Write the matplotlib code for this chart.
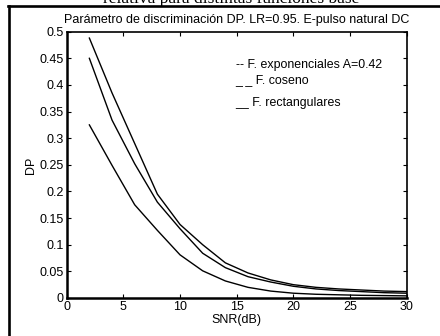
import numpy as np
import matplotlib.pyplot as plt
from matplotlib.lines import Line2D

plt.rcParams['font.family'] = ['Liberation Sans', 'DejaVu Sans']

# SNR points (dB)
snr = [2, 4, 6, 8, 10, 12, 14, 16, 18, 20, 22, 24, 26, 28, 30]

# DP values
dp_exp = [0.488, 0.385, 0.290, 0.195, 0.138, 0.100, 0.066, 0.047, 0.034,
          0.025, 0.020, 0.017, 0.015, 0.013, 0.012]
dp_cos = [0.450, 0.334, 0.252, 0.180, 0.130, 0.084, 0.057, 0.040, 0.030,
          0.022, 0.017, 0.014, 0.012, 0.010, 0.009]
dp_rect = [0.325, 0.249, 0.175, 0.127, 0.081, 0.051, 0.032, 0.020, 0.013,
           0.009, 0.007, 0.006, 0.005, 0.0045, 0.004]

legend_labels = ["-- F. exponenciales A=0.42", "_ _ F. coseno", "__ F. rectangulares"]
legend_y = [0.4375, 0.409, 0.366]

xticks = [0, 5, 10, 15, 20, 25, 30]
yticks = [0, 0.05, 0.1, 0.15, 0.2, 0.25, 0.3, 0.35, 0.4, 0.45, 0.5]
ytick_labels = ["0", "0.05", "0.1", "0.15", "0.2", "0.25", "0.3", "0.35", "0.4", "0.45", "0.5"]

fig = plt.figure(figsize=(4.4, 3.36), dpi=100)
ax = fig.add_axes([0.1516, 0.1131, 0.7727, 0.7926])

for series in (dp_exp, dp_cos, dp_rect):
    ax.plot(snr, series, color="black", linewidth=1.0)

for label, yy in zip(legend_labels, legend_y):
    ax.text(14.9, yy, label, fontsize=8.9, va="center", ha="left")

ax.set_xlim(0, 30)
ax.set_ylim(0, 0.5)
ax.set_xticks(xticks)
ax.set_xticklabels([str(t) for t in xticks])
ax.set_yticks(yticks)
ax.set_yticklabels(ytick_labels)
ax.tick_params(direction="in", length=3, width=0.8, labelsize=9,
               top=True, right=True, pad=2)
for side in ("left", "bottom"):
    ax.spines[side].set_linewidth(1.8)
for side in ("right", "top"):
    ax.spines[side].set_linewidth(1.2)

ax.set_xlabel("SNR(dB)", fontsize=9, labelpad=1)
ax.set_ylabel("DP", fontsize=9, labelpad=2)
ax.set_title("Parámetro de discriminación DP. LR=0.95. E-pulso natural DC",
             fontsize=9.0, pad=6)

# cut-off caption line from the scanned page and the frame
fig.text(0.525, 1 - 3 / 336, "relativa para distintas funciones base",
         family=["Liberation Serif", "DejaVu Serif"], fontsize=12.5,
         ha="center", va="baseline")
fig.add_artist(Line2D([9 / 440, 9 / 440], [0, 1 - 6 / 336],
                      transform=fig.transFigure, color="black", linewidth=1.9))
fig.add_artist(Line2D([8 / 440, 1], [1 - 6 / 336, 1 - 6 / 336],
                      transform=fig.transFigure, color="black", linewidth=1.9))

fig.savefig("out.png", dpi=100)
